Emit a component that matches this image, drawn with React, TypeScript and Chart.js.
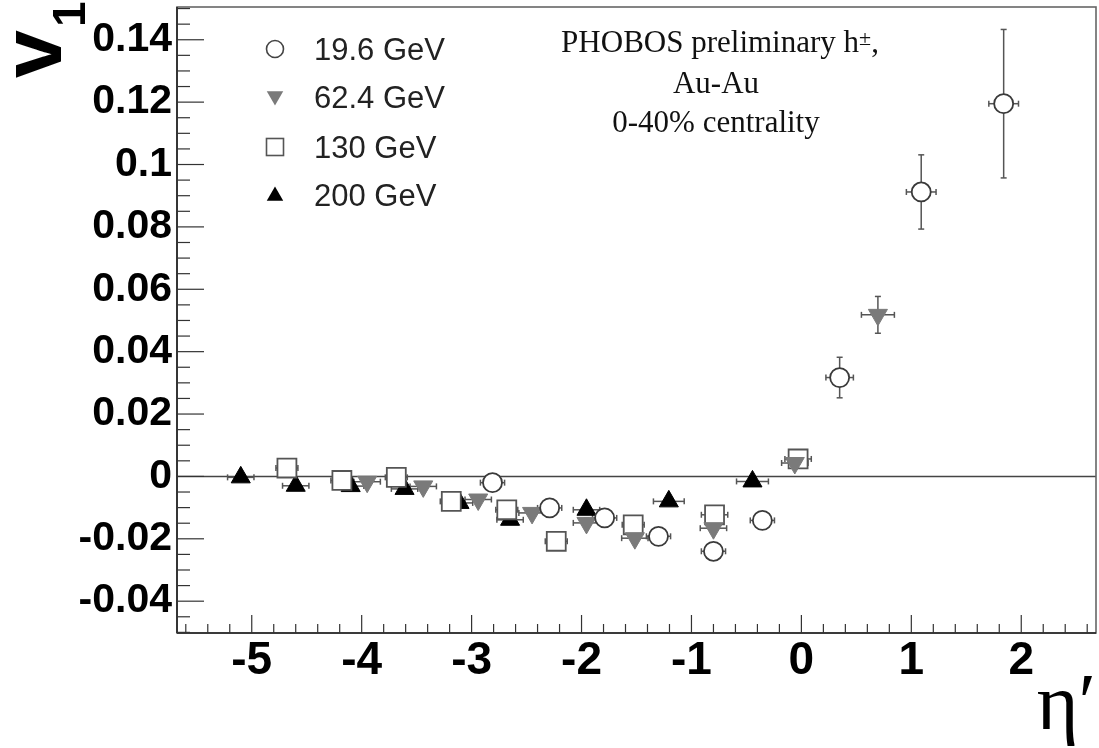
import React, { useEffect, useRef } from "react";
import { Chart, registerables } from "chart.js";

Chart.register(...registerables);

// ---------- data ----------
const seriesLabels = ["19.6 GeV", "62.4 GeV", "130 GeV", "200 GeV"];

const eta196 = [-2.81, -2.29, -1.79, -1.3, -0.8, -0.355, 0.348, 1.09, 1.84];
const v1_196 = [-0.002, -0.0101, -0.0133, -0.0192, -0.024, -0.0141, 0.0317, 0.0912, 0.1195];
const yErr196 = [0.001, 0.001, 0.001, 0.001, 0.0015, 0.001, 0.0065, 0.0119, 0.0238];
const xErr196 = [0.11, 0.11, 0.11, 0.11, 0.11, 0.11, 0.125, 0.135, 0.135];

const eta624 = [-3.95, -3.44, -2.94, -2.45, -1.955, -1.515, -0.8, -0.06, 0.696];
const v1_624 = [-0.0017, -0.0032, -0.0074, -0.0117, -0.0149, -0.0198, -0.0166, 0.0043, 0.0518];
const yErr624 = [0.001, 0.001, 0.001, 0.001, 0.0015, 0.001, 0.0015, 0.001, 0.0059];
const xErr624 = [0.12, 0.12, 0.12, 0.12, 0.12, 0.12, 0.12, 0.12, 0.15];

const eta130 = [-4.68, -4.18, -3.685, -3.185, -2.68, -2.23, -1.53, -0.79, -0.03];
const v1_130 = [0.0027, -0.0013, -0.0003, -0.008, -0.0107, -0.0208, -0.0155, -0.0123, 0.0056];
const yErr130 = [0.001, 0.001, 0.001, 0.001, 0.001, 0.001, 0.001, 0.001, 0.001];
const xErr130 = [0.1, 0.1, 0.1, 0.1, 0.1, 0.1, 0.1, 0.12, 0.12];

const eta200 = [-5.1, -4.6, -4.1, -3.61, -3.11, -2.65, -1.955, -1.206, -0.445];
const v1_200 = [-0.0003, -0.003, -0.0031, -0.004, -0.0085, -0.0139, -0.0107, -0.008, -0.0016];
const yErr200 = [0.001, 0.001, 0.001, 0.001, 0.001, 0.001, 0.001, 0.001, 0.001];
const xErr200 = [0.12, 0.12, 0.12, 0.12, 0.12, 0.12, 0.12, 0.14, 0.145];

const xTickValues = [-5, -4, -3, -2, -1, 0, 1, 2];
const xTickLabels = ["-5", "-4", "-3", "-2", "-1", "0", "1", "2"];
const yTickValues = [-0.04, -0.02, 0, 0.02, 0.04, 0.06, 0.08, 0.1, 0.12, 0.14];
const yTickLabels = ["-0.04", "-0.02", "0", "0.02", "0.04", "0.06", "0.08", "0.1", "0.12", "0.14"];

const X_MIN = -5.68;
const X_MAX = 2.68;
const Y_MIN = -0.0502;
const Y_MAX = 0.1505;

const annotationLine1 = "PHOBOS preliminary h";
const annotationSup = "±";
const annotationLine2 = "Au-Au";
const annotationLine3 = "0-40% centrality";
const xTitle = "η′";
const yTitleMain = "v";
const yTitleSub = "1";

// ---------- helpers ----------
const SANS = "'Liberation Sans', Arial, Helvetica, sans-serif";
const SERIF = "'Liberation Serif', 'DejaVu Serif', 'Times New Roman', serif";

function points(xs: number[], ys: number[], xe: number[], ye: number[]) {
  return xs.map((x, i) => ({ x, y: ys[i], xErr: xe[i], yErr: ye[i] }));
}

function line(ctx: CanvasRenderingContext2D, x1: number, y1: number, x2: number, y2: number) {
  ctx.beginPath();
  ctx.moveTo(x1, y1);
  ctx.lineTo(x2, y2);
  ctx.stroke();
}

function legendMarker(ctx: CanvasRenderingContext2D, kind: number, cx: number, cy: number) {
  ctx.save();
  ctx.lineWidth = 1.6;
  if (kind === 0) {
    ctx.strokeStyle = "#444";
    ctx.fillStyle = "#fff";
    ctx.beginPath();
    ctx.arc(cx, cy, 8.5, 0, Math.PI * 2);
    ctx.fill();
    ctx.stroke();
  } else if (kind === 1) {
    const r = 9.5;
    ctx.fillStyle = "#7a7a7a";
    ctx.beginPath();
    ctx.moveTo(cx - r * 0.866, cy - r * 0.6);
    ctx.lineTo(cx + r * 0.866, cy - r * 0.6);
    ctx.lineTo(cx, cy + r * 0.9);
    ctx.closePath();
    ctx.fill();
  } else if (kind === 2) {
    ctx.strokeStyle = "#555";
    ctx.strokeRect(cx - 8.5, cy - 8.5, 17, 17);
  } else {
    const r = 9.5;
    ctx.fillStyle = "#000";
    ctx.beginPath();
    ctx.moveTo(cx - r * 0.866, cy + r * 0.6);
    ctx.lineTo(cx + r * 0.866, cy + r * 0.6);
    ctx.lineTo(cx, cy - r * 0.9);
    ctx.closePath();
    ctx.fill();
  }
  ctx.restore();
}

const decorPlugin = {
  id: "decor",
  beforeDatasetsDraw(chart: any) {
    const { ctx, chartArea: a, scales } = chart;
    const xs = scales.x;
    const ys = scales.y;
    ctx.save();
    // zero line
    const y0 = ys.getPixelForValue(0);
    ctx.strokeStyle = "#444";
    ctx.lineWidth = 1.5;
    line(ctx, a.left, y0, a.right, y0);

    // error bars
    ctx.strokeStyle = "#555";
    ctx.lineWidth = 1.5;
    chart.data.datasets.forEach((ds: any) => {
      ds.data.forEach((d: any) => {
        const px = xs.getPixelForValue(d.x);
        const py = ys.getPixelForValue(d.y);
        const xl = xs.getPixelForValue(d.x - d.xErr);
        const xr = xs.getPixelForValue(d.x + d.xErr);
        const yt = ys.getPixelForValue(d.y + d.yErr);
        const yb = ys.getPixelForValue(d.y - d.yErr);
        line(ctx, xl, py, xr, py);
        line(ctx, xl, py - 3, xl, py + 3);
        line(ctx, xr, py - 3, xr, py + 3);
        line(ctx, px, yt, px, yb);
        line(ctx, px - 3, yt, px + 3, yt);
        line(ctx, px - 3, yb, px + 3, yb);
      });
    });
    ctx.restore();
  },
  afterDraw(chart: any) {
    const { ctx, chartArea: a, scales } = chart;
    const xs = scales.x;
    const ys = scales.y;
    ctx.save();

    // frame
    ctx.strokeStyle = "#666";
    ctx.lineWidth = 1.6;
    ctx.strokeRect(a.left, a.top, a.right - a.left, a.bottom - a.top);
    ctx.strokeStyle = "#222";
    line(ctx, a.left, a.top, a.left, a.bottom);
    line(ctx, a.left, a.bottom, a.right, a.bottom);

    // x ticks (inside)
    ctx.strokeStyle = "#333";
    ctx.lineWidth = 1.2;
    for (let i = Math.ceil(X_MIN * 5); i <= Math.floor(X_MAX * 5); i++) {
      const px = xs.getPixelForValue(i / 5);
      const len = i % 5 === 0 ? 18 : 9;
      line(ctx, px, a.bottom, px, a.bottom - len);
    }
    // y ticks (inside)
    for (let i = Math.ceil(Y_MIN * 200); i <= Math.floor(Y_MAX * 200); i++) {
      const py = ys.getPixelForValue(i / 200);
      const len = i % 4 === 0 ? 27 : 13;
      line(ctx, a.left, py, a.left + len, py);
    }

    // legend
    ctx.textAlign = "left";
    ctx.textBaseline = "middle";
    const rows = [49, 97, 147, 195];
    seriesLabels.forEach((lab, i) => {
      legendMarker(ctx, i, 275, rows[i]);
      ctx.fillStyle = "#222";
      ctx.font = `31px ${SANS}`;
      ctx.fillText(lab, 314, rows[i] + 2);
    });

    // annotation
    ctx.fillStyle = "#111";
    ctx.textBaseline = "alphabetic";
    ctx.font = `31px ${SERIF}`;
    const w1 = ctx.measureText(annotationLine1).width;
    ctx.font = `22px ${SERIF}`;
    const wSup = ctx.measureText(annotationSup).width;
    ctx.font = `31px ${SERIF}`;
    const wComma = ctx.measureText(",").width;
    const total = w1 + wSup + wComma;
    let sx = 720 - total / 2;
    ctx.textAlign = "left";
    ctx.fillText(annotationLine1, sx, 52);
    sx += w1;
    ctx.font = `22px ${SERIF}`;
    ctx.fillText(annotationSup, sx, 45);
    sx += wSup;
    ctx.font = `31px ${SERIF}`;
    ctx.fillText(",", sx, 52);
    ctx.textAlign = "center";
    ctx.fillText(annotationLine2, 716, 93);
    ctx.fillText(annotationLine3, 716, 132);

    // y title (rotated v with subscript 1)
    ctx.fillStyle = "#000";
    ctx.textAlign = "left";
    ctx.textBaseline = "alphabetic";
    ctx.save();
    ctx.translate(61, 78);
    ctx.rotate(-Math.PI / 2);
    ctx.font = `bold 86px ${SANS}`;
    ctx.fillText(yTitleMain, 0, 0);
    ctx.restore();
    ctx.save();
    ctx.translate(85, 27);
    ctx.rotate(-Math.PI / 2);
    ctx.font = `bold 46px ${SANS}`;
    ctx.fillText(yTitleSub, 0, 0);
    ctx.restore();

    ctx.restore();
  },
};

export default function App() {
  const canvasRef = useRef<HTMLCanvasElement | null>(null);

  useEffect(() => {
    document.body.style.margin = "0";
    const canvas = canvasRef.current;
    if (!canvas) return;

    const chart = new Chart(canvas, {
      type: "scatter",
      data: {
        datasets: [
          {
            label: seriesLabels[3],
            data: points(eta200, v1_200, xErr200, yErr200),
            pointStyle: "triangle",
            pointRadius: 11,
            pointBackgroundColor: "#000",
            pointBorderColor: "#000",
            pointBorderWidth: 1,
            order: 4,
          },
          {
            label: seriesLabels[2],
            data: points(eta130, v1_130, xErr130, yErr130),
            pointStyle: "rect",
            pointRadius: 13.4,
            pointBackgroundColor: "#fff",
            pointBorderColor: "#555",
            pointBorderWidth: 1.8,
            order: 3,
          },
          {
            label: seriesLabels[1],
            data: points(eta624, v1_624, xErr624, yErr624),
            pointStyle: "triangle",
            rotation: 180,
            pointRadius: 11,
            pointBackgroundColor: "#7a7a7a",
            pointBorderColor: "#7a7a7a",
            pointBorderWidth: 1,
            order: 2,
          },
          {
            label: seriesLabels[0],
            data: points(eta196, v1_196, xErr196, yErr196),
            pointStyle: "circle",
            pointRadius: 9.5,
            pointBackgroundColor: "#fff",
            pointBorderColor: "#3a3a3a",
            pointBorderWidth: 1.8,
            order: 1,
          },
        ] as any,
      },
      options: {
        responsive: false,
        animation: false,
        devicePixelRatio: 1,
        layout: { autoPadding: false, padding: { top: 7, right: 3, left: 0, bottom: 0 } },
        plugins: {
          legend: { display: false },
          tooltip: { enabled: false },
        },
        scales: {
          x: {
            type: "linear",
            min: X_MIN,
            max: X_MAX,
            grid: { display: false, drawTicks: false },
            border: { display: false },
            afterBuildTicks: (s: any) => {
              s.ticks = xTickValues.map((v) => ({ value: v }));
            },
            afterFit: (s: any) => {
              s.height = 115;
              s.paddingLeft = 0;
              s.paddingRight = 0;
            },
            ticks: {
              autoSkip: false,
              maxRotation: 0,
              padding: 1,
              color: "#000",
              font: { family: SANS, size: 46, weight: "bold" },
              callback: (v: any) => {
                const i = xTickValues.findIndex((t) => Math.abs(t - v) < 1e-9);
                return i >= 0 ? xTickLabels[i] : "";
              },
            },
            title: {
              display: true,
              text: xTitle,
              align: "end",
              color: "#000",
              font: { family: SERIF, size: 80, lineHeight: 1 },
              padding: { top: 0, bottom: 0 },
            },
          },
          y: {
            type: "linear",
            min: Y_MIN,
            max: Y_MAX,
            grid: { display: false, drawTicks: false },
            border: { display: false },
            afterBuildTicks: (s: any) => {
              s.ticks = yTickValues.map((v) => ({ value: v }));
            },
            afterFit: (s: any) => {
              s.width = 177;
              s.paddingTop = 0;
              s.paddingBottom = 0;
            },
            ticks: {
              autoSkip: false,
              padding: 5,
              color: "#000",
              font: { family: SANS, size: 41, weight: "bold" },
              callback: (v: any) => {
                const i = yTickValues.findIndex((t) => Math.abs(t - v) < 1e-9);
                return i >= 0 ? yTickLabels[i] : "";
              },
            },
          },
        },
      } as any,
      plugins: [decorPlugin as any],
    });

    return () => {
      chart.destroy();
    };
  }, []);

  return (
    <div style={{ width: 1099, height: 748, background: "#fff" }}>
      <canvas ref={canvasRef} width={1099} height={748} style={{ display: "block", width: 1099, height: 748 }} />
    </div>
  );
}
